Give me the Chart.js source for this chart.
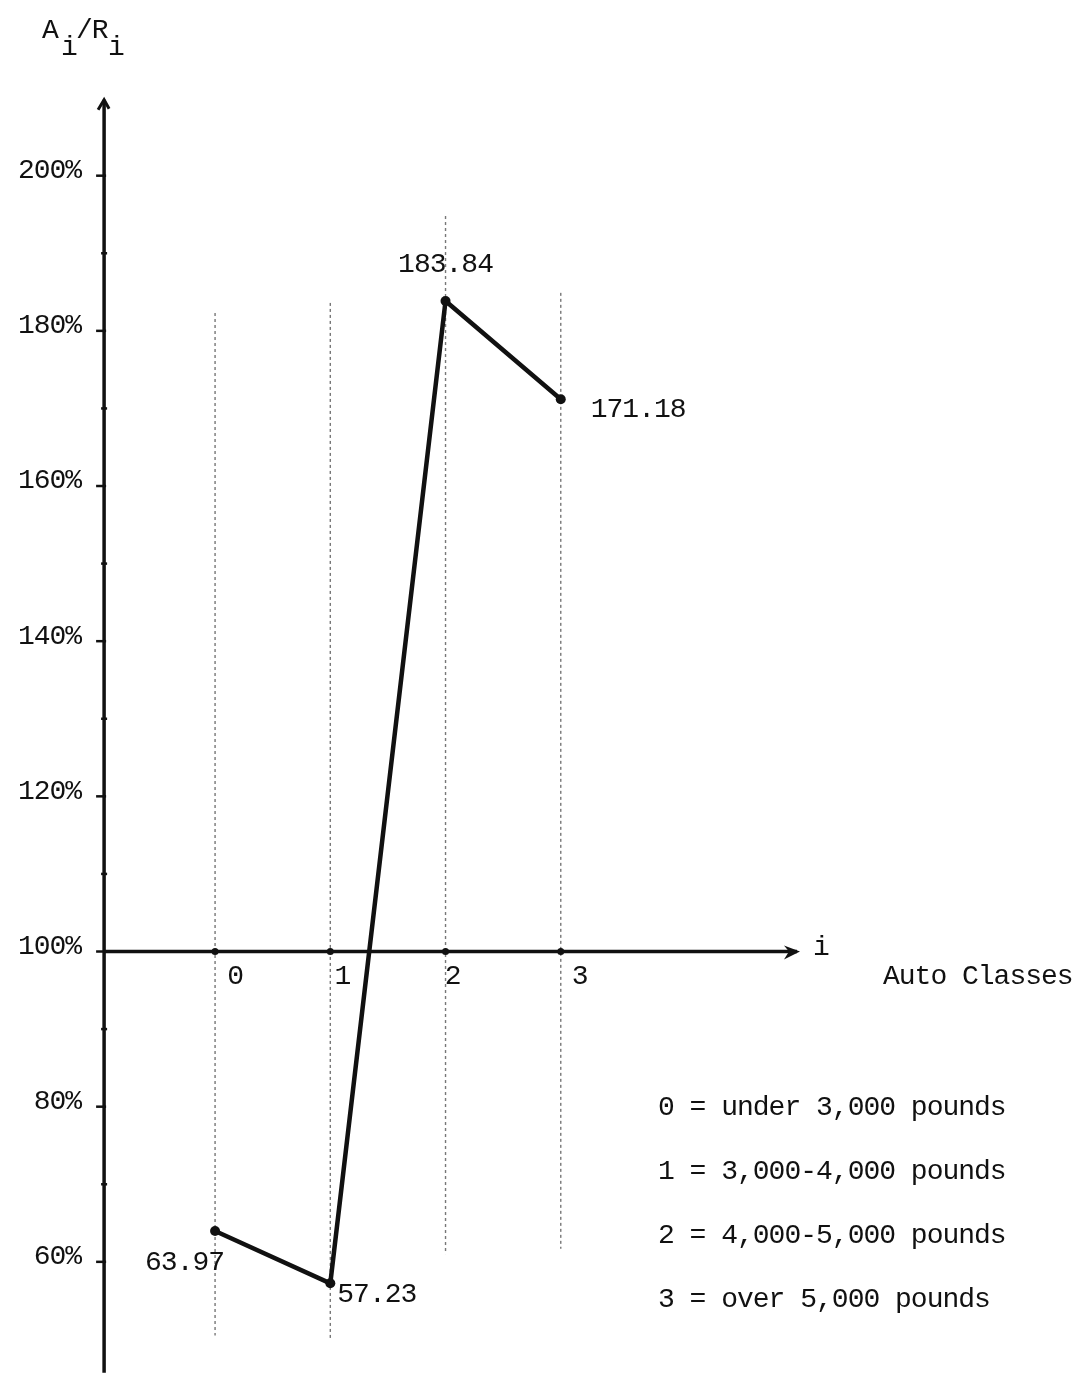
<!DOCTYPE html>
<html>
<head>
<meta charset="utf-8">
<script src="https://cdn.jsdelivr.net/npm/chart.js@4"></script>
<style>
  html, body { margin: 0; padding: 0; background: #fff; }
  #wrap { width: 1085px; height: 1385px; position: relative; }
</style>
</head>
<body>
<div id="wrap"><canvas id="ratioChart"></canvas></div>
<script>
// data
const classes = [0, 1, 2, 3];
const ratios = [63.97, 57.23, 183.84, 171.18];
const classLabels = ['0', '1', '2', '3'];
const yTicks = [60, 80, 100, 120, 140, 160, 180, 200];
const yMinorTicks = [70, 90, 110, 130, 150, 170, 190];
const classNames = [
    '0 = under 3,000 pounds',
    '1 = 3,000-4,000 pounds',
    '2 = 4,000-5,000 pounds',
    '3 = over 5,000 pounds'
];

const FONT = '"Liberation Mono", "DejaVu Sans Mono", monospace';
const INK = '#111';

document.addEventListener("DOMContentLoaded", function() {
    const ctx = document.getElementById('ratioChart').getContext('2d');

    // hand drawn axes, guides and typed labels
    const typedChart = {
        id: 'typedChart',
        beforeDatasetsDraw: function(chart) {
            const c = chart.ctx;
            const xs = chart.scales.x, ys = chart.scales.y;
            const axisX = xs.getPixelForValue(-0.963);
            const axisY = ys.getPixelForValue(100);

            c.save();
            // dotted guide lines at each class
            const guides = [[182.3, 50.5], [183.6, 49.9], [194.8, 61.0], [184.9, 61.7]];
            c.strokeStyle = '#777';
            c.lineWidth = 1.4;
            c.setLineDash([3, 3]);
            classes.forEach((k, i) => {
                const px = xs.getPixelForValue(k);
                c.beginPath();
                c.moveTo(px, ys.getPixelForValue(guides[i][0]));
                c.lineTo(px, ys.getPixelForValue(guides[i][1]));
                c.stroke();
            });
            c.setLineDash([]);

            // y axis
            c.strokeStyle = INK;
            c.fillStyle = INK;
            c.lineWidth = 3.5;
            const yTop = ys.getPixelForValue(209.8);
            const yBot = ys.getPixelForValue(45.7);
            c.beginPath();
            c.moveTo(axisX, yBot);
            c.lineTo(axisX, yTop);
            c.stroke();
            c.lineWidth = 3;
            c.beginPath();
            c.moveTo(axisX - 6, yTop + 10);
            c.lineTo(axisX, yTop);
            c.lineTo(axisX + 5, yTop + 9);
            c.stroke();

            // x axis
            const xEnd = xs.getPixelForValue(5.05);
            c.lineWidth = 3.5;
            c.beginPath();
            c.moveTo(axisX, axisY);
            c.lineTo(xEnd, axisY);
            c.stroke();
            c.beginPath();
            c.moveTo(xEnd + 3, axisY);
            c.lineTo(xEnd - 13, axisY - 6);
            c.lineTo(xEnd - 8, axisY);
            c.lineTo(xEnd - 13, axisY + 8);
            c.closePath();
            c.fill();

            // y ticks
            c.lineWidth = 2.5;
            yTicks.forEach(v => {
                const py = ys.getPixelForValue(v);
                c.beginPath();
                c.moveTo(axisX - 8, py);
                c.lineTo(axisX + 2, py);
                c.stroke();
            });
            yMinorTicks.forEach(v => {
                const py = ys.getPixelForValue(v);
                c.beginPath();
                c.moveTo(axisX - 3, py);
                c.lineTo(axisX + 3, py);
                c.stroke();
            });

            // class dots on the x axis
            classes.forEach(k => {
                c.beginPath();
                c.arc(xs.getPixelForValue(k), axisY, 3.5, 0, 2 * Math.PI);
                c.fill();
            });
            c.restore();
        },
        afterDatasetsDraw: function(chart) {
            const c = chart.ctx;
            const xs = chart.scales.x, ys = chart.scales.y;
            const axisX = xs.getPixelForValue(-0.963);
            const axisY = ys.getPixelForValue(100);

            c.save();
            c.fillStyle = INK;
            c.font = '28px ' + FONT;
            c.letterSpacing = '-1px';
            c.textBaseline = 'middle';

            // y tick labels
            c.textAlign = 'right';
            yTicks.forEach(v => {
                c.fillText(v + '%', axisX - 23, ys.getPixelForValue(v) - 5);
            });

            // class labels under the axis
            const tickDx = [20, 12, 7, 19];
            c.textAlign = 'center';
            classes.forEach((k, i) => {
                c.fillText(classLabels[i], xs.getPixelForValue(k) + tickDx[i], axisY + 25);
            });

            // value labels next to each point
            const meta = chart.getDatasetMeta(0);
            const placing = [
                { dx: 9, dy: 32, align: 'right' },
                { dx: 7, dy: 11, align: 'left' },
                { dx: 0, dy: -36, align: 'center' },
                { dx: 30, dy: 10, align: 'left' }
            ];
            meta.data.forEach((pt, i) => {
                c.textAlign = placing[i].align;
                c.fillText(ratios[i].toFixed(2), pt.x + placing[i].dx, pt.y + placing[i].dy);
            });

            // axis names
            c.textAlign = 'left';
            const xEnd = xs.getPixelForValue(5.05);
            c.fillText('i', xEnd + 16, axisY - 4);
            c.fillText('Auto Classes', 883, axisY + 25);

            // A_i / R_i
            c.textBaseline = 'alphabetic';
            c.fillText('A', 42, 38);
            c.fillText('/R', 76, 38);
            c.fillText('i', 61, 55);
            c.fillText('i', 108, 55);

            // key to the classes
            c.textBaseline = 'middle';
            classNames.forEach((t, i) => {
                c.fillText(t, 658, 1108 + i * 64);
            });
            c.restore();
        }
    };

    new Chart(ctx, {
        type: 'line',
        data: {
            datasets: [{
                label: 'A/R',
                data: classes.map((k, i) => ({ x: k, y: ratios[i] })),
                borderColor: INK,
                borderWidth: 4.5,
                backgroundColor: INK,
                pointBackgroundColor: INK,
                pointBorderColor: INK,
                pointRadius: 5,
                pointBorderWidth: 0,
                tension: 0,
                fill: false
            }]
        },
        options: {
            responsive: true,
            maintainAspectRatio: false,
            animation: false,
            layout: { padding: 0 },
            plugins: {
                legend: { display: false },
                tooltip: { enabled: false }
            },
            scales: {
                x: { type: 'linear', min: -1.823, max: 7.506, display: false },
                y: { type: 'linear', min: 44.77, max: 222.0, display: false }
            }
        },
        plugins: [typedChart]
    });
});
</script>
</body>
</html>
